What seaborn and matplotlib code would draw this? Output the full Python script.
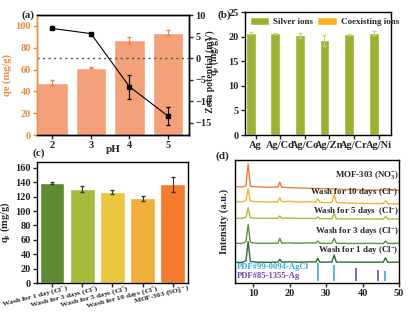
import matplotlib
matplotlib.use("Agg")
import pandas as pd
import matplotlib.pyplot as plt
import matplotlib.transforms as mtrans
import seaborn as sns

# (a) effect of pH
ph = ["2", "3", "4", "5"]
qe_ph = [48, 61.7, 87, 94]
qe_ph_err = [2.5, 0.6, 2.5, 2]
zeta = [6.9, 5.7, -6.6, -13.4]
zeta_err = [0.2, 0.2, 2.8, 2.1]

# (b) coexisting ions
ions = ["Ag", "Ag/Cd", "Ag/Co", "Ag/Zn", "Ag/Cr", "Ag/Ni"]
silver = [20.7, 20.7, 20.3, 19.3, 20.5, 20.7]
silver_err = [0.2, 0.15, 0.5, 1.1, 0.1, 0.4]
coexist = [0, 0, 0, 0, 0, 0.45]

# (c) washing stability
wash_labels = ["Wash for 1 day (Cl$^{-}$)", "Wash for 3 days (Cl$^{-}$)",
               "Wash for 5 days (Cl$^{-}$)", "Wash for 10 days (Cl$^{-}$)",
               "MOF-303 (SO$_{4}^{2-}$)"]
qt = [139, 130.6, 126.4, 117.5, 137.5]
qt_err = [2, 4, 2.5, 3, 10.5]

# (d) XRD patterns
two_theta = [5, 7, 8.0, 8.6, 9.2, 11, 14, 16.8, 17.3, 17.8, 20, 22.5, 25, 27.2, 27.7, 28.2,
             30, 31.6, 32.2, 32.8, 35, 38, 42, 45.7, 46.3, 46.9, 50]
xrd_no3 = [78.3, 78.0, 79, 96.7, 78.5, 78.2, 77.8, 78, 82, 77.8, 77.5, 77.2, 77, 76.8, 76.8, 76.7,
           76.5, 76.4, 76.4, 76.3, 76, 75.8, 75.6, 75.5, 75.6, 75.4, 75.3]
xrd_10d = [66, 66, 67, 76.4, 66.5, 66, 65.8, 66, 69.4, 66, 66.4, 65.8, 66, 65.8, 68.5, 65.6,
           65.3, 65.5, 72, 65.4, 65, 64.8, 64.6, 64.5, 66.7, 64.4, 64.2]
xrd_5d = [52.6, 52.6, 53.5, 61.2, 53, 52.6, 52.5, 52.6, 54.5, 52.6, 52.8, 52.4, 52.5, 52.4, 53.7, 52.3,
          52.2, 52.3, 56.7, 52.2, 52.2, 52.1, 52, 52, 53.9, 52, 52]
xrd_3d = [32.2, 32.2, 33.5, 47.7, 33, 32.3, 32.2, 32.4, 36.3, 32.4, 32.6, 32.3, 32.6, 32.5, 34.1, 32.3,
          32.2, 32.4, 36.3, 32.3, 32.2, 32.1, 32.2, 32.1, 34.1, 32.1, 32.2]
xrd_1d = [16.8, 16.8, 18, 33.6, 17.5, 16.9, 16.8, 17, 19.3, 17, 17.2, 16.9, 17.2, 17.1, 20.1, 17,
          16.9, 17.1, 22.8, 17, 17, 16.9, 16.9, 17, 20.6, 16.9, 16.9]
agcl_peaks = [27.8, 32.2, 46.2]
agcl_height = [16.3, 14.6, 9.8]
ag_peaks = [38.1, 44.3]
ag_height = [12.2, 10.6]

BAR_A = "#F4A078"
ORANGE_TXT = "#F08A3C"
GREEN_B = "#9CB12F"
ORANGE_B = "#FFB020"
WASH_COLORS = ["#5E8B32", "#A5BB3B", "#E9C83E", "#F2AE3A", "#F57B2F"]
XRD_COLORS = ["#F57B3A", "#F2B632", "#A8BC3A", "#5E953A", "#2B6B34"]


def style_axis(ax):
    ax.tick_params(direction="out", length=3, width=1, labelsize=7.5, pad=1.5)
    for s in ax.spines.values():
        s.set_linewidth(1)


def panel_a(fig):
    ax = fig.add_axes([0.0905, 0.570, 0.372, 0.382])
    sns.barplot(x=ph, y=qe_ph, color=BAR_A, saturation=1, width=0.8, errorbar=None, ax=ax)
    ax.errorbar(range(len(ph)), qe_ph, yerr=qe_ph_err, fmt="none", ecolor="#F08050", elinewidth=0.8, capsize=1.5)
    ax.set_xlim(-0.4, 3.55)
    ax.set_ylim(0, 110)
    ax.set_yticks(range(0, 101, 20))
    ax.set_xlabel("pH", fontsize=8)
    ax.xaxis.set_label_coords(0.5, -0.085)
    ax.set_ylabel("qe (mg/g)", fontsize=7.5, color=ORANGE_TXT, labelpad=2)
    style_axis(ax)
    ax.tick_params(axis="y", colors=ORANGE_TXT)
    ax.spines["left"].set_color(ORANGE_TXT)

    ax2 = ax.twinx()
    ax2.axhline(0, color="#2F5F6A", linestyle=(0, (1.5, 2.5)), linewidth=1)
    ax2.errorbar(range(len(ph)), zeta, yerr=zeta_err, color="black", marker="s", markersize=3,
                 linewidth=0.8, elinewidth=0.8, capsize=1.5)
    ax2.set_ylim(-17.8, 10)
    ax2.set_yticks([10, 5, 0, -5, -10, -15])
    ax2.set_ylabel("Zeta potential (mV)", fontsize=7)
    ax2.yaxis.set_label_coords(1.105, 0.53)
    style_axis(ax2)
    ax2.spines["left"].set_color(ORANGE_TXT)
    ax.text(-0.06, 1.0, "(a)", transform=ax.transAxes, fontsize=8, ha="center", va="center")


def panel_b(fig):
    ax = fig.add_axes([0.599, 0.570, 0.358, 0.391])
    df = pd.DataFrame({
        "ion": ions * 2,
        "value": silver + coexist,
        "group": ["Silver ions"] * len(ions) + ["Coexisting ions"] * len(ions),
    })
    sns.barplot(data=df, x="ion", y="value", hue="group", palette=[GREEN_B, ORANGE_B],
                saturation=1, errorbar=None, ax=ax)
    ax.errorbar([i - 0.2 for i in range(len(ions))], silver, yerr=silver_err, fmt="none",
                ecolor="#C8D27A", elinewidth=0.8, capsize=1.5)
    ax.set_xlim(-0.43, 5.52)
    ax.set_ylim(0, 25)
    ax.set_xlabel("")
    ax.set_ylabel("q$_{e}$ (mg/g)", fontsize=7)
    ax.yaxis.set_label_coords(-0.162, 0.645)
    style_axis(ax)
    ax.legend(loc="upper left", bbox_to_anchor=(0.0, 1.0), ncol=2, frameon=False, fontsize=6.5,
              handlelength=2.2, handleheight=1.1, columnspacing=0.5, handletextpad=0.4, borderaxespad=0.1)
    ax.text(-0.14, 0.975, "(b)", transform=ax.transAxes, fontsize=8, ha="center", va="center")


def panel_c(fig):
    ax = fig.add_axes([0.0905, 0.0987, 0.369, 0.385])
    sns.barplot(x=wash_labels, y=qt, hue=wash_labels, palette=WASH_COLORS, saturation=1,
                width=0.82, errorbar=None, legend=False, ax=ax)
    ax.errorbar(range(len(qt)), qt, yerr=qt_err, fmt="none", ecolor="#333333", elinewidth=0.8, capsize=1.5)
    ax.set_xlim(-0.5, 4.5)
    ax.set_ylim(0, 168)
    ax.set_yticks(range(0, 161, 20))
    ax.set_ylabel("q$_{t}$ (mg/g)", fontsize=7.5, labelpad=2)
    style_axis(ax)
    ax.tick_params(axis="x", labelsize=5.4, pad=0)
    shift = mtrans.ScaledTranslation(15 / 100, 4 / 100, fig.dpi_scale_trans)
    for lab in ax.get_xticklabels():
        lab.set_rotation(14)
        lab.set_ha("right")
        lab.set_rotation_mode("anchor")
        lab.set_transform(lab.get_transform() + shift)
    ax.text(0.01, 1.07, "(c)", transform=ax.transAxes, fontsize=8, ha="center", va="center")


def panel_d(fig):
    ax = fig.add_axes([0.5746, 0.0987, 0.401, 0.392])
    curves = [xrd_no3, xrd_10d, xrd_5d, xrd_3d, xrd_1d]
    names = ["MOF-303 (NO$_{3}^{-}$)", "Wash for 10 days (Cl$^{-}$)", "Wash for 5 days  (Cl$^{-}$)",
             "Wash for 3 days (Cl$^{-}$)", "Wash for 1 day (Cl$^{-}$)"]
    label_y = [87.8, 74, 58.5, 42.3, 26.8]
    for curve, color, name, ly in zip(curves, XRD_COLORS, names, label_y):
        sns.lineplot(x=two_theta, y=curve, color=color, linewidth=1, ax=ax)
        ax.text(49.9, ly, name, fontsize=6.4, ha="right", va="center")
    ax.vlines(agcl_peaks, 1.6, agcl_height, color="#3BA9E6", linewidth=1.2)
    ax.vlines(ag_peaks, 1.6, ag_height, color="#7B44B4", linewidth=1.2)
    ax.text(5.4, 13, "PDF#99-0094-AgCl", color="#3BA9E6", fontsize=6.2, va="center")
    ax.text(5.4, 5.7, "PDF#85-1355-Ag", color="#7B44B4", fontsize=6.2, va="center")
    ax.set_xlim(5, 50)
    ax.set_ylim(0, 100)
    ax.set_yticks([])
    ax.set_ylabel("Intensity (a.u.)", fontsize=7.5, labelpad=4)
    style_axis(ax)
    ax.text(-0.08, 1.03, "(d)", transform=ax.transAxes, fontsize=8, ha="center", va="center")


def main():
    sns.set_theme(style="ticks")
    plt.rcParams["font.family"] = ["Liberation Serif", "DejaVu Serif"]
    plt.rcParams["font.weight"] = "bold"
    plt.rcParams["axes.labelweight"] = "bold"
    plt.rcParams["mathtext.fontset"] = "custom"
    plt.rcParams["mathtext.rm"] = "Liberation Serif:bold"
    plt.rcParams["mathtext.it"] = "Liberation Serif:bold"
    plt.rcParams["mathtext.bf"] = "Liberation Serif:bold"
    plt.rcParams["axes.edgecolor"] = "black"

    fig = plt.figure(figsize=(4.09, 3.14), dpi=100)
    panel_a(fig)
    panel_b(fig)
    panel_c(fig)
    panel_d(fig)
    fig.savefig("out.png", dpi=100)


if __name__ == "__main__":
    main()
